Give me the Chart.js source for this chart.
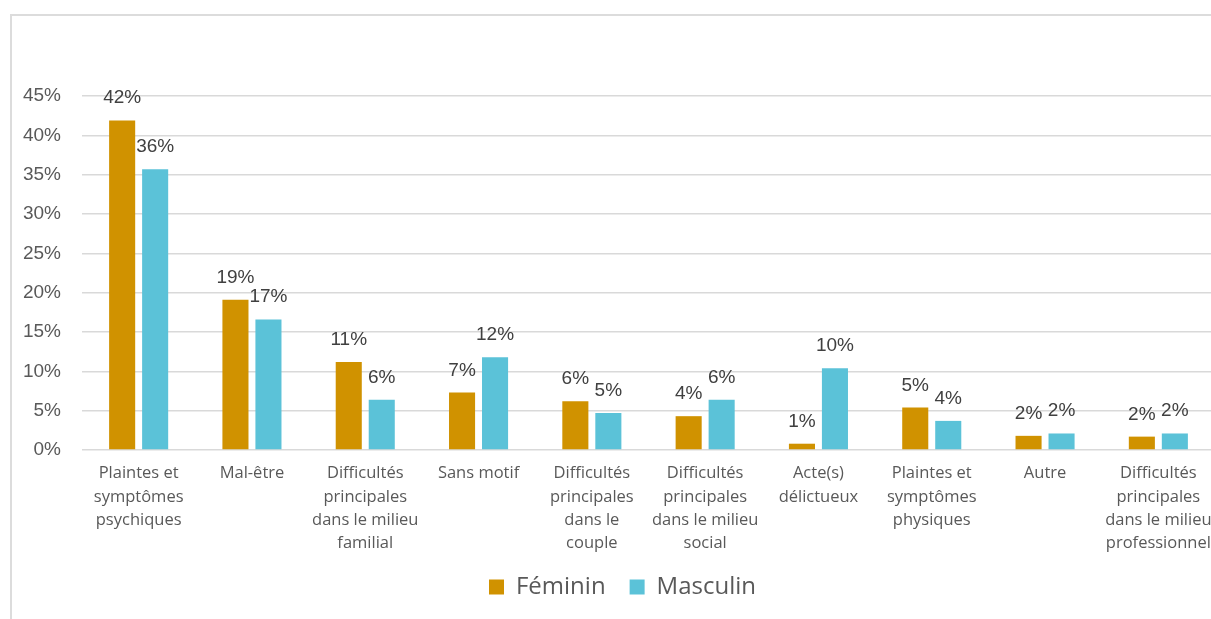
<!DOCTYPE html>
<html lang="fr">
<head>
<meta charset="utf-8">
<title>Motifs par sexe</title>
<script src="https://cdn.jsdelivr.net/npm/chart.js@4/dist/chart.umd.min.js"></script>
<style>
  html, body { margin: 0; padding: 0; background: #fff; overflow: hidden; }
  #wrap { position: relative; width: 1211px; height: 619px; overflow: hidden; }
  #frame {
    position: absolute; left: 10px; top: 14px; right: -10px; bottom: -10px;
    border-left: 2px solid #dcdcdc; border-top: 2px solid #dcdcdc;
    pointer-events: none;
  }
  canvas { position: absolute; left: 0; top: 0; }
</style>
</head>
<body>
<div id="wrap">
  <canvas id="chart" width="1216" height="619"></canvas>
  <div id="frame"></div>
</div>
<script>
// categories (one array per label, split into lines as in the original)
const CATEGORIES = [
  ['Plaintes et', 'symptômes', 'psychiques'],
  'Mal-être',
  ['Difficultés', 'principales', 'dans le milieu', 'familial'],
  'Sans motif',
  ['Difficultés', 'principales', 'dans le', 'couple'],
  ['Difficultés', 'principales', 'dans le milieu', 'social'],
  ['Acte(s)', 'délictueux'],
  ['Plaintes et', 'symptômes', 'physiques'],
  'Autre',
  ['Difficultés', 'principales', 'dans le milieu', 'professionnel'],
];

// values in %
const FEMININ  = [41.9, 19.1, 11.2, 7.3, 6.2, 4.3, 0.8, 5.4, 1.8, 1.7];
const MASCULIN = [35.7, 16.6, 6.4, 11.8, 4.7, 6.4, 10.4, 3.7, 2.1, 2.1];

const Y_MAX = 45;
const Y_STEP = 5;

const COLOR_F = '#D09200';
const COLOR_M = '#5BC2D8';

// value labels above each bar
const valueLabels = {
  id: 'valueLabels',
  afterDatasetsDraw(chart) {
    const ctx = chart.ctx;
    ctx.save();
    ctx.font = '19px "Liberation Sans", Arial, sans-serif';
    ctx.fillStyle = '#404040';
    ctx.textAlign = 'center';
    ctx.textBaseline = 'alphabetic';
    chart.data.datasets.forEach((ds, di) => {
      chart.getDatasetMeta(di).data.forEach((bar, i) => {
        ctx.fillText(Math.round(ds.data[i]) + '%', bar.x, bar.y - 17);
      });
    });
    ctx.restore();
  }
};

// nudge the legend like the original (a bit right, a bit up)
const legendShift = {
  id: 'legendShift',
  afterLayout(chart) {
    const lg = chart.legend;
    lg.left += 15; lg.right += 15;
    lg.top -= 10;  lg.bottom -= 10;
  }
};

new Chart(document.getElementById('chart'), {
  type: 'bar',
  data: {
    labels: CATEGORIES,
    datasets: [
      { label: 'Féminin',  data: FEMININ,  backgroundColor: COLOR_F },
      { label: 'Masculin', data: MASCULIN, backgroundColor: COLOR_M },
    ],
  },
  options: {
    responsive: false,
    animation: false,
    datasets: { bar: { categoryPercentage: 0.5825, barPercentage: 0.79 } },
    layout: { padding: { top: 96, left: 0, right: 1, bottom: 0 } },
    plugins: {
      tooltip: { enabled: false },
      legend: {
        position: 'bottom',
        labels: {
          boxWidth: 15, boxHeight: 15, padding: 24,
          color: '#595959',
          font: { family: '"Open Sans", sans-serif', size: 24 },
        },
      },
    },
    scales: {
      x: {
        afterFit: s => { s.paddingLeft = 0; s.paddingRight = 0; s.height = 111; },
        grid: { display: false, drawTicks: false },
        border: { display: false },
        ticks: {
          maxRotation: 0, autoSkip: false, padding: 12,
          color: '#595959',
          font: { family: '"Open Sans", sans-serif', size: 16.5, lineHeight: 1.41 },
        },
      },
      y: {
        min: 0, max: Y_MAX,
        afterFit: s => { s.width = 82; },
        grid: { color: '#d9d9d9', lineWidth: 1.5, drawTicks: false },
        border: { display: false },
        ticks: {
          stepSize: Y_STEP, padding: 21,
          color: '#595959',
          font: { family: '"Liberation Sans", Arial, sans-serif', size: 19 },
          callback: v => v + '%',
        },
      },
    },
  },
  plugins: [valueLabels, legendShift],
});
</script>
</body>
</html>
